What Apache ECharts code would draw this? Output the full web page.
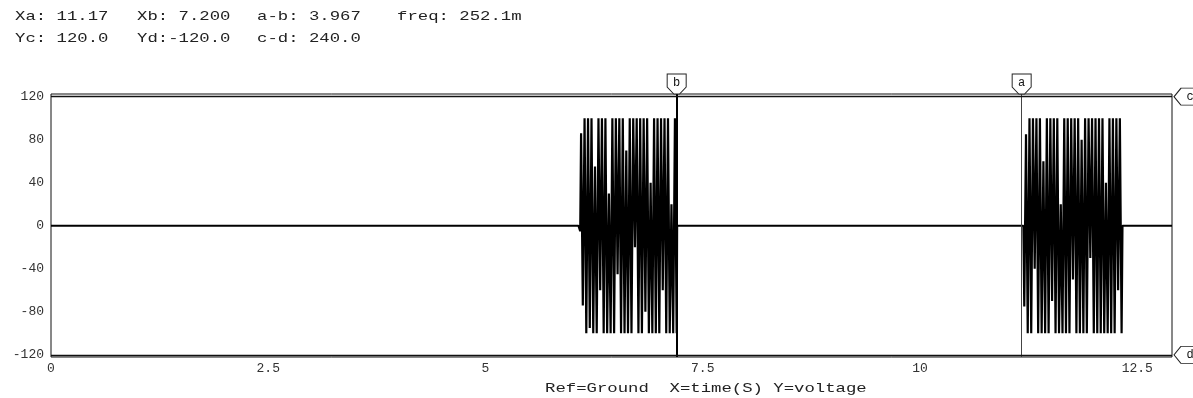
<!DOCTYPE html>
<html>
<head>
<meta charset="utf-8">
<script src="https://cdn.jsdelivr.net/npm/echarts@6/dist/echarts.min.js"></script>
<style>html,body{margin:0;padding:0;background:#fff;}#c{width:1193px;height:398px;}</style>
</head>
<body>
<div id="c"></div>
<script>
// ---- data ----
const xTicks = [0, 2.5, 5, 7.5, 10, 12.5];
const yTicks = [-120, -80, -40, 0, 40, 80, 120];
const cursorXa = 11.17, cursorXb = 7.2;
const cursorYc = 120, cursorYd = -120;
const readoutRow1 = ['Xa: 11.17', 'Xb: 7.200', 'a-b: 3.967', 'freq: 252.1m'];
const readoutRow2 = ['Yc: 120.0', 'Yd:-120.0', 'c-d: 240.0'];
const footerText = 'Ref=Ground  X=time(S) Y=voltage';

const burst1Start = 6.1, burst1Step = 0.02;
const burst1Values = [86, -74, 100, -100, 100, -95, 100, -100, 55, -100, 100, -60, 100, -100, 100, -100, 30, -100, 100, -100, 100, -45, 100, -100, 100, -100, 70, -100, 100, -100, 100, -20, 100, -100, 100, -100, 100, -80, 100, -100, 40, -100, 100, -100, 100, -100, 100, -60, 100, -100, 100, -100, 20, -100, 100, -100];
const burst2Start = 11.2, burst2Step = 0.02;
const burst2Values = [-75, 85, -100, 100, -100, 100, -40, 100, -100, 100, -100, 60, -100, 100, -100, 100, -70, 100, -100, 100, -100, 20, -100, 100, -100, 100, -100, 100, -50, 100, -100, 100, -100, 80, -100, 100, -100, 100, -30, 100, -100, 100, -100, 100, -100, 100, -100, 40, -100, 100, -100, 100, -100, 100, -60, 100, -100];

const xMax = 12.9, yMin = -122, yMax = 122.5;

// build series points
const pts = [[0, 0], [6.07, 0], [6.09, -5]];
burst1Values.forEach((v, i) => pts.push([burst1Start + i * burst1Step, v]));
pts.push([7.205, 0], [11.19, 0]);
burst2Values.forEach((v, i) => pts.push([burst2Start + i * burst2Step, v]));
pts.push([12.33, 0], [xMax, 0]);

const mono = '"Liberation Mono", "DejaVu Sans Mono", monospace';
const chart = echarts.init(document.getElementById('c'), null, {renderer: 'canvas'});

const row1X = [15, 137, 257, 397];
const graphics = [];
readoutRow1.forEach((t, i) => graphics.push({type: 'text', left: row1X[i], top: 10, scaleX: 1.33, style: {text: t, font: '13px ' + mono, fill: '#222'}}));
readoutRow2.forEach((t, i) => graphics.push({type: 'text', left: row1X[i], top: 32, scaleX: 1.33, style: {text: t, font: '13px ' + mono, fill: '#222'}}));
graphics.push({type: 'text', left: 545, top: 382, scaleX: 1.33, style: {text: footerText, font: '13px ' + mono, fill: '#222'}});

const shieldTop = 'path://M0,0 L20,0 L20,13 L13,20 L7,20 L0,13 Z';
const shieldRight = 'path://M0,10 L8,0 L30,0 L30,20 L8,20 Z';

chart.setOption({
  animation: false,
  backgroundColor: '#fff',
  grid: {left: 51, right: 21, top: 94, bottom: 41, show: true, borderColor: '#111', borderWidth: 1, backgroundColor: 'transparent'},
  xAxis: {
    type: 'value', min: 0, max: xMax,
    axisLine: {show: false}, axisTick: {show: false}, splitLine: {show: false},
    axisLabel: {customValues: xTicks, margin: 5, color: '#333', fontFamily: mono, fontSize: 13, formatter: v => String(v)}
  },
  yAxis: {
    type: 'value', min: yMin, max: yMax,
    axisLine: {show: false}, axisTick: {show: false}, splitLine: {show: false},
    axisLabel: {customValues: yTicks, margin: 7, color: '#333', fontFamily: mono, fontSize: 13, formatter: v => String(v)}
  },
  graphic: graphics,
  series: [{
    type: 'line',
    data: pts,
    showSymbol: false,
    symbol: 'none',
    sampling: 'none',
    clip: false,
    lineStyle: {color: '#000', width: 2.2},
    markLine: {
      silent: true, symbol: 'none', animation: false,
      label: {show: false},
      data: [
        {xAxis: cursorXb, lineStyle: {color: '#000', width: 2, type: 'solid'}},
        {xAxis: cursorXa, lineStyle: {color: '#444', width: 1, type: 'solid'}},
        {yAxis: cursorYc, lineStyle: {color: '#111', width: 1.3, type: 'solid'}},
        {yAxis: cursorYd, lineStyle: {color: '#111', width: 1.3, type: 'solid'}}
      ]
    },
    markPoint: {
      silent: true, animation: false,
      itemStyle: {color: '#fff', borderColor: '#222', borderWidth: 1},
      label: {show: true, color: '#111', fontFamily: mono, fontSize: 12},
      data: [
        {coord: [cursorXb, yMax], symbol: shieldTop, symbolSize: [19, 20], symbolOffset: [0, -10], label: {formatter: 'b', offset: [0, -1]}},
        {coord: [cursorXa, yMax], symbol: shieldTop, symbolSize: [19, 20], symbolOffset: [0, -10], label: {formatter: 'a', offset: [0, -1]}},
        {coord: [xMax, cursorYc], symbol: shieldRight, symbolSize: [26, 17], symbolOffset: [15, 0], label: {formatter: 'c', offset: [3, 0]}},
        {coord: [xMax, cursorYd], symbol: shieldRight, symbolSize: [26, 17], symbolOffset: [15, 0], label: {formatter: 'd', offset: [3, 0]}}
      ]
    }
  }]
});
</script>
</body>
</html>
